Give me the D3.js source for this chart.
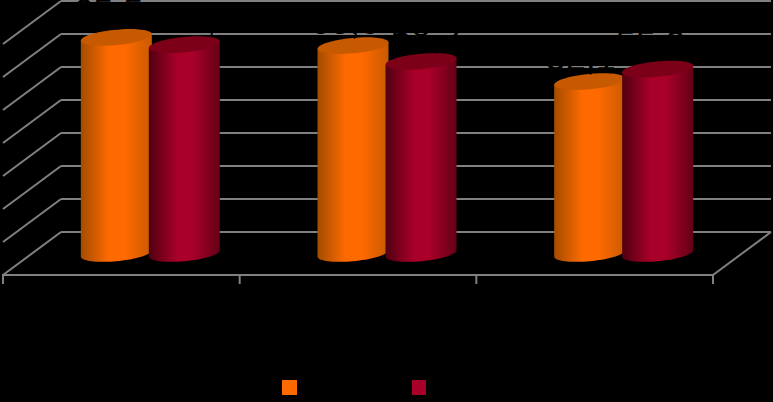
<!DOCTYPE html>
<html>
<head>
<meta charset="utf-8">
<script src="https://cdn.jsdelivr.net/npm/d3@7"></script>
<style>
  html, body { margin: 0; padding: 0; background: #000; }
  svg { display: block; }
</style>
</head>
<body>
<svg id="chart" width="773" height="402"></svg>
<script>
var categories = ["A", "B", "C"];
var seriesNames = ["Series 1", "Series 2"];
var series1 = [65.5, 63.0, 52.1];
var series2 = [63.3, 58.2, 55.9];
var valueTicks = [0, 10, 20, 30, 40, 50, 60, 70];
var seriesColors = ["#ff6a00", "#a80028"];
var capColors = ["#c75a00", "#7d0019"];
var edgeColors = ["#a34c00", "#500010"];
var rightEdgeColors = ["#c85a00", "#640016"];
var labelNudge = [[-8, -8, -9], [17, 5, -7]];

var svg = d3.select("#chart");
var defs = svg.append("defs");

var depthX = 58, depthY = 43;
var left = 3, right = 713, floorY = 275;

var y = d3.scaleLinear().domain([0, 70]).range([floorY - depthY, 1]);
var x = d3.scaleBand().domain(categories).range([left, right]);
var xEdge = d3.scaleLinear().domain([0, categories.length]).range([left, right]);
var xSeries = d3.scaleBand().domain(d3.range(seriesNames.length)).range([-68, 68]);

var grid = svg.append("g")
    .attr("fill", "none")
    .attr("stroke", "#808080")
    .attr("stroke-width", 2);

grid.selectAll("line.h")
    .data(valueTicks)
  .enter().append("line")
    .attr("class", "h")
    .attr("x1", left + depthX)
    .attr("x2", right + depthX)
    .attr("y1", function(d) { return y(d); })
    .attr("y2", function(d) { return y(d); });

grid.selectAll("line.d")
    .data(valueTicks)
  .enter().append("line")
    .attr("class", "d")
    .attr("x1", left + depthX)
    .attr("x2", left)
    .attr("y1", function(d) { return y(d); })
    .attr("y2", function(d) { return y(d) + depthY; });

// right edge of the floor
grid.append("line")
    .attr("x1", right + depthX)
    .attr("y1", y(0))
    .attr("x2", right)
    .attr("y2", floorY);

var axis = d3.axisBottom(xEdge)
    .tickValues(d3.range(categories.length + 1))
    .tickSize(9)
    .offset(0)
    .tickFormat("");

var axisG = svg.append("g")
    .attr("transform", "translate(0," + floorY + ")")
    .call(axis);
axisG.select(".domain").attr("stroke", "#808080").attr("stroke-width", 2);
axisG.selectAll(".tick line").attr("stroke", "#808080").attr("stroke-width", 2);

// cylinder gradients
seriesColors.forEach(function(c, i) {
  var g = defs.append("linearGradient").attr("id", "cyl" + i);
  g.append("stop").attr("offset", "0%").attr("stop-color", edgeColors[i]);
  g.append("stop").attr("offset", "40%").attr("stop-color", c);
  g.append("stop").attr("offset", "62%").attr("stop-color", c);
  g.append("stop").attr("offset", "100%").attr("stop-color", rightEdgeColors[i]);
});

var rx = 35.5, ry = 7.7, tilt = 3.2;

function ellipsePoint(cx, cy, t) {
  return [cx + rx * Math.cos(t), cy + ry * Math.sin(t) - tilt * Math.cos(t)];
}

var line = d3.line();

function capPath(cx, cy) {
  var pts = d3.range(0, 73).map(function(i) { return ellipsePoint(cx, cy, i * Math.PI / 36); });
  return line(pts) + "Z";
}

function bodyPath(cx, topY, baseY) {
  // upper half of the top ring is covered by the cap, so go along the lower half of the base
  var pts = [ellipsePoint(cx, topY, Math.PI)];
  d3.range(0, 37).forEach(function(i) {
    pts.push(ellipsePoint(cx, baseY, Math.PI - i * Math.PI / 36));
  });
  pts.push(ellipsePoint(cx, topY, 0));
  return line(pts) + "Z";
}

var rows = [];
categories.forEach(function(cat, ci) {
  [series1, series2].forEach(function(vals, si) {
    rows.push({ cat: cat, ci: ci, si: si, value: vals[ci] });
  });
});

var bars = svg.append("g").selectAll("g")
    .data(rows)
  .enter().append("g");

function barX(d) {
  return x(d.cat) + x.bandwidth() / 2 + depthX / 2 + xSeries(d.si) + xSeries.bandwidth() / 2;
}
function barY(v) {
  return y(v) + depthY / 2;
}

bars.append("path")
    .attr("d", function(d) { return bodyPath(barX(d), barY(d.value), barY(0)); })
    .attr("fill", function(d) { return "url(#cyl" + d.si + ")"; });

bars.append("path")
    .attr("d", function(d) { return capPath(barX(d), barY(d.value)); })
    .attr("fill", function(d) { return capColors[d.si]; });

// data labels, black like the original
svg.append("g").selectAll("text")
    .data(rows)
  .enter().append("text")
    .attr("x", function(d) { return barX(d) + labelNudge[d.si][d.ci]; })
    .attr("y", function(d) { return barY(d.value) + (d.si === 1 && d.ci === 0 ? -13 : -12); })
    .attr("text-anchor", "middle")
    .attr("fill", "#000")
    .style("font-family", "'Liberation Sans', sans-serif")
    .style("font-size", "36px")
    .text(function(d) { return d3.format(".1f")(d.value).replace(".", ","); });

// legend swatches
var legendX = d3.scaleOrdinal().domain([0, 1]).range([282, 412]);
svg.append("g").selectAll("rect")
    .data(seriesNames)
  .enter().append("rect")
    .attr("x", function(d, i) { return legendX(i); })
    .attr("y", 380)
    .attr("width", function(d, i) { return i === 0 ? 15 : 14; })
    .attr("height", 15)
    .attr("fill", function(d, i) { return seriesColors[i]; });
</script>
</body>
</html>
